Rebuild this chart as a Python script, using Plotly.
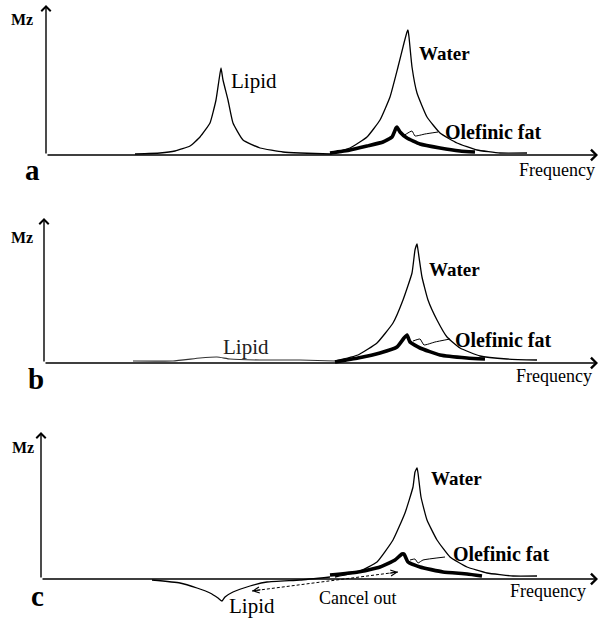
import plotly.graph_objects as go

W, H = 601, 619

# ---------------- data (frequency: arbitrary units from the Mz axis, Mz: arbitrary units) ----------
# panel a
a_lipid_f = [89, 114, 129, 144, 154, 164, 170, 173, 175, 177, 182, 187, 197, 214, 237, 254, 284]
a_lipid_mz = [0.01, 0.02, 0.04, 0.09, 0.18, 0.32, 0.55, 0.75, 0.87, 0.75, 0.55, 0.32, 0.15, 0.07, 0.03, 0.02, 0.01]
a_water_f = [284, 304, 321, 334, 344, 352, 358, 361, 362, 363, 366, 371, 381, 394, 411, 431, 454, 481]
a_water_mz = [0.01, 0.07, 0.18, 0.35, 0.58, 0.88, 1.12, 1.23, 1.25, 1.18, 0.88, 0.62, 0.38, 0.22, 0.12, 0.05, 0.02, 0.02]
a_olef_f = [284, 304, 321, 337, 346, 350, 351, 354, 361, 374, 394, 414, 429]
a_olef_mz = [0.02, 0.05, 0.09, 0.13, 0.18, 0.27, 0.28, 0.23, 0.17, 0.11, 0.07, 0.04, 0.03]
a_lead_f = [357, 366, 369, 379, 392]
a_lead_mz = [0.19, 0.24, 0.19, 0.21, 0.23]

# panel b
b_lipid_f = [89, 129, 156, 173, 186, 216, 256, 291]
b_lipid_mz = [0.02, 0.02, 0.05, 0.06, 0.04, 0.03, 0.03, 0.02]
b_water_f = [291, 314, 333, 349, 359, 368, 371, 373, 374, 378, 384, 393, 403, 416, 436, 463, 493]
b_water_mz = [0.02, 0.08, 0.20, 0.40, 0.63, 0.90, 1.13, 1.19, 1.13, 0.86, 0.63, 0.43, 0.26, 0.15, 0.07, 0.04, 0.03]
b_olef_f = [291, 314, 336, 353, 360, 363, 366, 376, 396, 423, 441]
b_olef_mz = [0.01, 0.05, 0.10, 0.16, 0.25, 0.28, 0.21, 0.15, 0.08, 0.05, 0.04]
b_lead_f = [369, 376, 380, 391, 406]
b_lead_mz = [0.22, 0.24, 0.18, 0.21, 0.24]

# panel c
c_lipid_f = [111, 139, 156, 169, 177, 181, 184, 192, 209, 226, 259, 289]
c_lipid_mz = [-0.01, -0.04, -0.09, -0.14, -0.19, -0.22, -0.18, -0.13, -0.07, -0.03, -0.01, 0.02]
c_water_f = [294, 317, 336, 352, 364, 372, 374, 376, 377, 380, 386, 396, 409, 426, 446, 472, 496]
c_water_mz = [0.02, 0.07, 0.17, 0.39, 0.66, 0.92, 1.07, 1.11, 1.06, 0.82, 0.59, 0.39, 0.22, 0.12, 0.06, 0.03, 0.03]
c_olef_f = [289, 317, 339, 354, 361, 363, 367, 379, 402, 426, 441]
c_olef_mz = [0.04, 0.07, 0.12, 0.19, 0.25, 0.25, 0.17, 0.12, 0.07, 0.05, 0.03]
c_lead_f = [369, 374, 377, 382, 404]
c_lead_mz = [0.19, 0.20, 0.16, 0.19, 0.22]
c_cancel_f = [211, 357]
c_cancel_mz = [-0.12, 0.07]

# ---------------- layout of the three panels (pixels) ----------------
panels = [
    dict(x0=46, top=5, bottom=175, ymin=-0.20, ymax=1.50),
    dict(x0=44, top=218, bottom=383, ymin=-0.20, ymax=1.45),
    dict(x0=41, top=432, bottom=615, ymin=-0.36, ymax=1.47),
]

fig = go.Figure()
names = ["", "2", "3"]

def add_line(k, f, mz, width, color="black", dash=None):
    fig.add_trace(go.Scatter(
        x=f, y=mz, mode="lines", xaxis="x" + names[k], yaxis="y" + names[k],
        line=dict(color=color, width=width, dash=dash, shape="spline", smoothing=0.4),
        hoverinfo="skip", showlegend=False))

add_line(0, a_lipid_f, a_lipid_mz, 1.3)
add_line(0, a_water_f, a_water_mz, 1.3)
add_line(0, a_olef_f, a_olef_mz, 3.6)
add_line(0, a_lead_f, a_lead_mz, 1.0)
add_line(1, b_lipid_f, b_lipid_mz, 1.1, color="#333")
add_line(1, b_water_f, b_water_mz, 1.3)
add_line(1, b_olef_f, b_olef_mz, 3.6)
add_line(1, b_lead_f, b_lead_mz, 1.0)
add_line(2, c_lipid_f, c_lipid_mz, 1.3)
add_line(2, c_water_f, c_water_mz, 1.3)
add_line(2, c_olef_f, c_olef_mz, 3.6)
add_line(2, c_lead_f, c_lead_mz, 1.0)
fig.add_trace(go.Scatter(
    x=c_cancel_f, y=c_cancel_mz, mode="lines", xaxis="x3", yaxis="y3",
    line=dict(color="black", width=1, dash="3px,2px"), hoverinfo="skip", showlegend=False))

layout = dict(
    width=W, height=H, margin=dict(l=0, r=0, t=0, b=0),
    paper_bgcolor="white", plot_bgcolor="white", showlegend=False,
)
annotations = []
for k, p in enumerate(panels):
    xd = [p["x0"] / W, 1.0]
    yd = [1 - p["bottom"] / H, 1 - p["top"] / H]
    layout["xaxis" + names[k]] = dict(domain=xd, range=[0, W - p["x0"]], visible=False,
                                      anchor="y" + names[k], fixedrange=True)
    layout["yaxis" + names[k]] = dict(domain=yd, range=[p["ymin"], p["ymax"]], visible=False,
                                      anchor="x" + names[k], fixedrange=True)
    xr = "x" + names[k]
    yr = "y" + names[k]
    annotations.append(dict(x=0, y=p["ymax"], ax=0, ay=0, xref=xr, yref=yr, axref=xr, ayref=yr,
                            showarrow=True, arrowhead=4, arrowsize=1.3, arrowwidth=1.4,
                            arrowcolor="black", text=""))
    annotations.append(dict(x=W - p["x0"] - 3, y=0, ax=0, ay=0, xref=xr, yref=yr, axref=xr, ayref=yr,
                            showarrow=True, arrowhead=4, arrowsize=1.3, arrowwidth=1.6,
                            arrowcolor="black", text=""))

annotations.append(dict(x=c_cancel_f[1], y=c_cancel_mz[1], ax=-10, ay=1.4, xref="x3", yref="y3",
                        showarrow=True, arrowhead=5, arrowsize=1.2, arrowwidth=1,
                        arrowcolor="black", text=""))
annotations.append(dict(x=c_cancel_f[0], y=c_cancel_mz[0], ax=10, ay=-1.4, xref="x3", yref="y3",
                        showarrow=True, arrowhead=5, arrowsize=1.2, arrowwidth=1,
                        arrowcolor="black", text=""))

SERIF = "Liberation Serif, Times New Roman, serif"

def label(text, px, py, size, bold=False, color="black"):
    t = f"<b>{text}</b>" if bold else text
    annotations.append(dict(text=t, x=px / W, y=1 - py / H, xref="paper", yref="paper",
                            xanchor="center", yanchor="middle", showarrow=False,
                            font=dict(family=SERIF, size=size, color=color)))

# panel a
label("Mz", 22, 20, 16, bold=True)
label("a", 32, 170, 29, bold=True)
label("Lipid", 254, 81, 21)
label("Water", 444, 53, 19, bold=True)
label("Olefinic fat", 493, 132, 20, bold=True)
label("Frequency", 557, 170, 18)
# panel b
label("Mz", 22, 237, 16, bold=True)
label("b", 36, 379, 29, bold=True)
label("Lipid", 246, 347, 21, color="#222")
label("Water", 454, 269, 19, bold=True)
label("Olefinic fat", 503, 340, 20, bold=True)
label("Frequency", 554, 376, 18)
# panel c
label("Mz", 23, 447, 16, bold=True)
label("c", 37, 596, 29, bold=True)
label("Lipid", 252, 606, 21)
label("Water", 456, 478, 19, bold=True)
label("Olefinic fat", 501, 554, 20, bold=True)
label("Frequency", 548, 591, 18)
label("Cancel out", 357, 598, 18)

layout["annotations"] = annotations
fig.update_layout(**layout)
fig.write_html("out.html", config={"displayModeBar": False},
               post_script="document.body.style.margin='0px';document.body.style.overflow='hidden';")
